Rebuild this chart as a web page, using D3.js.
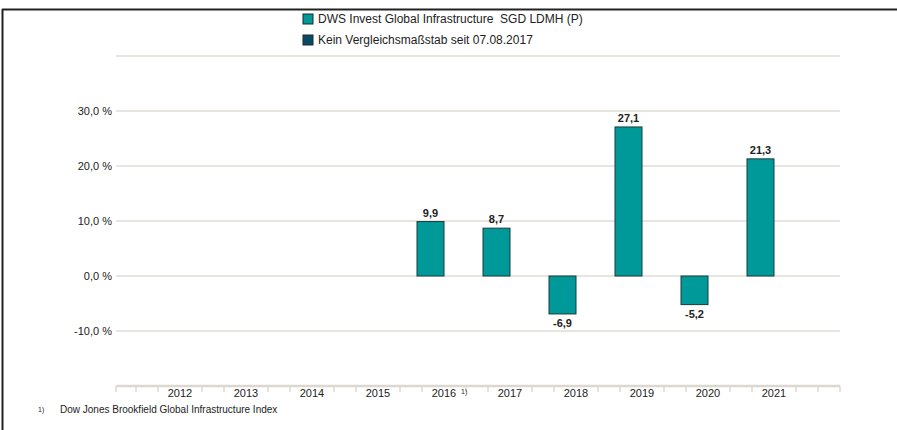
<!DOCTYPE html>
<html>
<head>
<meta charset="utf-8">
<script src="https://cdn.jsdelivr.net/npm/d3@7"></script>
<style>
    body { margin: 0; background: #fff; }
    svg text { font-family: "Liberation Sans", Arial, sans-serif; fill: #222; }
</style>
</head>
<body>
<div id="chart"></div>
<script>

// Data
let years = ["2012", "2013", "2014", "2015", "2016", "2017", "2018", "2019", "2020", "2021"];
let fundValues = [null, null, null, null, 9.9, 8.7, -6.9, 27.1, -5.2, 21.3];
let benchmarkValues = [null, null, null, null, null, null, null, null, null, null];
let yTickValues = [-10, 0, 10, 20, 30];
let gridValues = [-10, 0, 10, 20, 30, 40];
let seriesNames = ["DWS Invest Global Infrastructure  SGD LDMH (P)", "Kein Vergleichsmaßstab seit 07.08.2017"];
let seriesColors = ["#00999a", "#0b4a66"];
let footnote = "Dow Jones Brookfield Global Infrastructure Index";
let footnoteYear = "2016";

let width = 897, height = 430;

// German number format with a plain hyphen for negatives
let fmt = v => d3.format(".1f")(v).replace(".", ",").replace("\u2212", "-");

let svg = d3.select("#chart").append("svg")
    .attr("width", width)
    .attr("height", height);

// Frame (top and left rules)
svg.append("line")
    .attr("x1", 2).attr("x2", width)
    .attr("y1", 9.5).attr("y2", 9.5)
    .attr("stroke", "#222").attr("stroke-width", 2);
svg.append("line")
    .attr("x1", 2.5).attr("x2", 2.5)
    .attr("y1", 9).attr("y2", height)
    .attr("stroke", "#222").attr("stroke-width", 2);

// Scales
let x = d3.scaleBand()
    .domain(years)
    .range([114, 840])
    .paddingInner(0)
    .paddingOuter(0.5);

let x1 = d3.scaleBand()
    .domain([0, 1])
    .range([6, x.step() - 6]);

let y = d3.scaleLinear()
    .domain([-20, 40])
    .range([386, 56]);

// Grid lines
svg.selectAll(".grid")
    .data(gridValues)
    .enter().append("line")
    .attr("class", "grid")
    .attr("x1", 116).attr("x2", 840)
    .attr("y1", d => y(d)).attr("y2", d => y(d))
    .attr("stroke", "#e0ddd7")
    .attr("stroke-width", 1.5);

// Y axis labels
svg.selectAll(".ylab")
    .data(yTickValues)
    .enter().append("text")
    .attr("class", "ylab")
    .attr("x", 112)
    .attr("y", d => y(d) + 4)
    .attr("text-anchor", "end")
    .style("font-size", "11px")
    .text(d => fmt(d) + " %");

// X axis line and ticks
let x0 = x.range()[0], xEnd = x.range()[1];
svg.append("line")
    .attr("x1", x0 + 2).attr("x2", xEnd)
    .attr("y1", y(-20)).attr("y2", y(-20))
    .attr("stroke", "#dcd8d0")
    .attr("stroke-width", 2.5);

let tickIdx = d3.range(0, 34).filter(k => k % 3 !== 0 || k === 0 || k === 33);
svg.selectAll(".xtick")
    .data(tickIdx)
    .enter().append("line")
    .attr("class", "xtick")
    .attr("x1", k => Math.max(x0 + 2, x0 + k * x.step() / 3))
    .attr("x2", k => Math.max(x0 + 2, x0 + k * x.step() / 3))
    .attr("y1", y(-20))
    .attr("y2", y(-20) + 6)
    .attr("stroke", "#dcd8d0")
    .attr("stroke-width", 1.5);

svg.selectAll(".xlab")
    .data(years)
    .enter().append("text")
    .attr("class", "xlab")
    .attr("x", d => x(d) + x.bandwidth() / 2)
    .attr("y", 397)
    .attr("text-anchor", "middle")
    .style("font-size", "11px")
    .text(d => d);

// footnote marker next to 2016
svg.append("text")
    .attr("x", x(footnoteYear) + x.bandwidth() / 2 + 17)
    .attr("y", 394)
    .style("font-size", "7px")
    .text("1)");

// Bars
let barData = [];
years.forEach(function (yr, i) {
    [fundValues[i], benchmarkValues[i]].forEach(function (v, s) {
        if (v !== null) barData.push({ year: yr, s: s, v: v });
    });
});

svg.selectAll(".bar")
    .data(barData)
    .enter().append("rect")
    .attr("class", "bar")
    .attr("x", d => x(d.year) + x1(d.s))
    .attr("width", x1.bandwidth())
    .attr("y", d => y(Math.max(0, d.v)))
    .attr("height", d => Math.abs(y(d.v) - y(0)))
    .attr("fill", d => seriesColors[d.s])
    .attr("stroke", "#1d3b3b")
    .attr("stroke-width", 1);

svg.selectAll(".vlab")
    .data(barData)
    .enter().append("text")
    .attr("class", "vlab")
    .attr("x", d => x(d.year) + x1(d.s) + x1.bandwidth() / 2)
    .attr("y", d => d.v >= 0 ? y(d.v) - 5 : y(d.v) + 13)
    .attr("text-anchor", "middle")
    .style("font-size", "11px")
    .style("font-weight", "bold")
    .text(d => fmt(d.v));

// Legend
let legend = svg.selectAll(".legend")
    .data(seriesNames)
    .enter().append("g")
    .attr("class", "legend")
    .attr("transform", (d, i) => "translate(303," + (14 + i * 21) + ")");

legend.append("rect")
    .attr("width", 10).attr("height", 10)
    .attr("fill", (d, i) => seriesColors[i])
    .attr("stroke", "#1d2b2b")
    .attr("stroke-width", 1);

legend.append("text")
    .attr("x", 15)
    .attr("y", 9)
    .style("font-size", "12px")
    .style("white-space", "pre")
    .text(d => d);

// Footnote
svg.append("text")
    .attr("x", 38)
    .attr("y", 412)
    .style("font-size", "7px")
    .text("1)");
svg.append("text")
    .attr("x", 60)
    .attr("y", 413)
    .style("font-size", "10px")
    .text(footnote);

</script>
</body>
</html>
